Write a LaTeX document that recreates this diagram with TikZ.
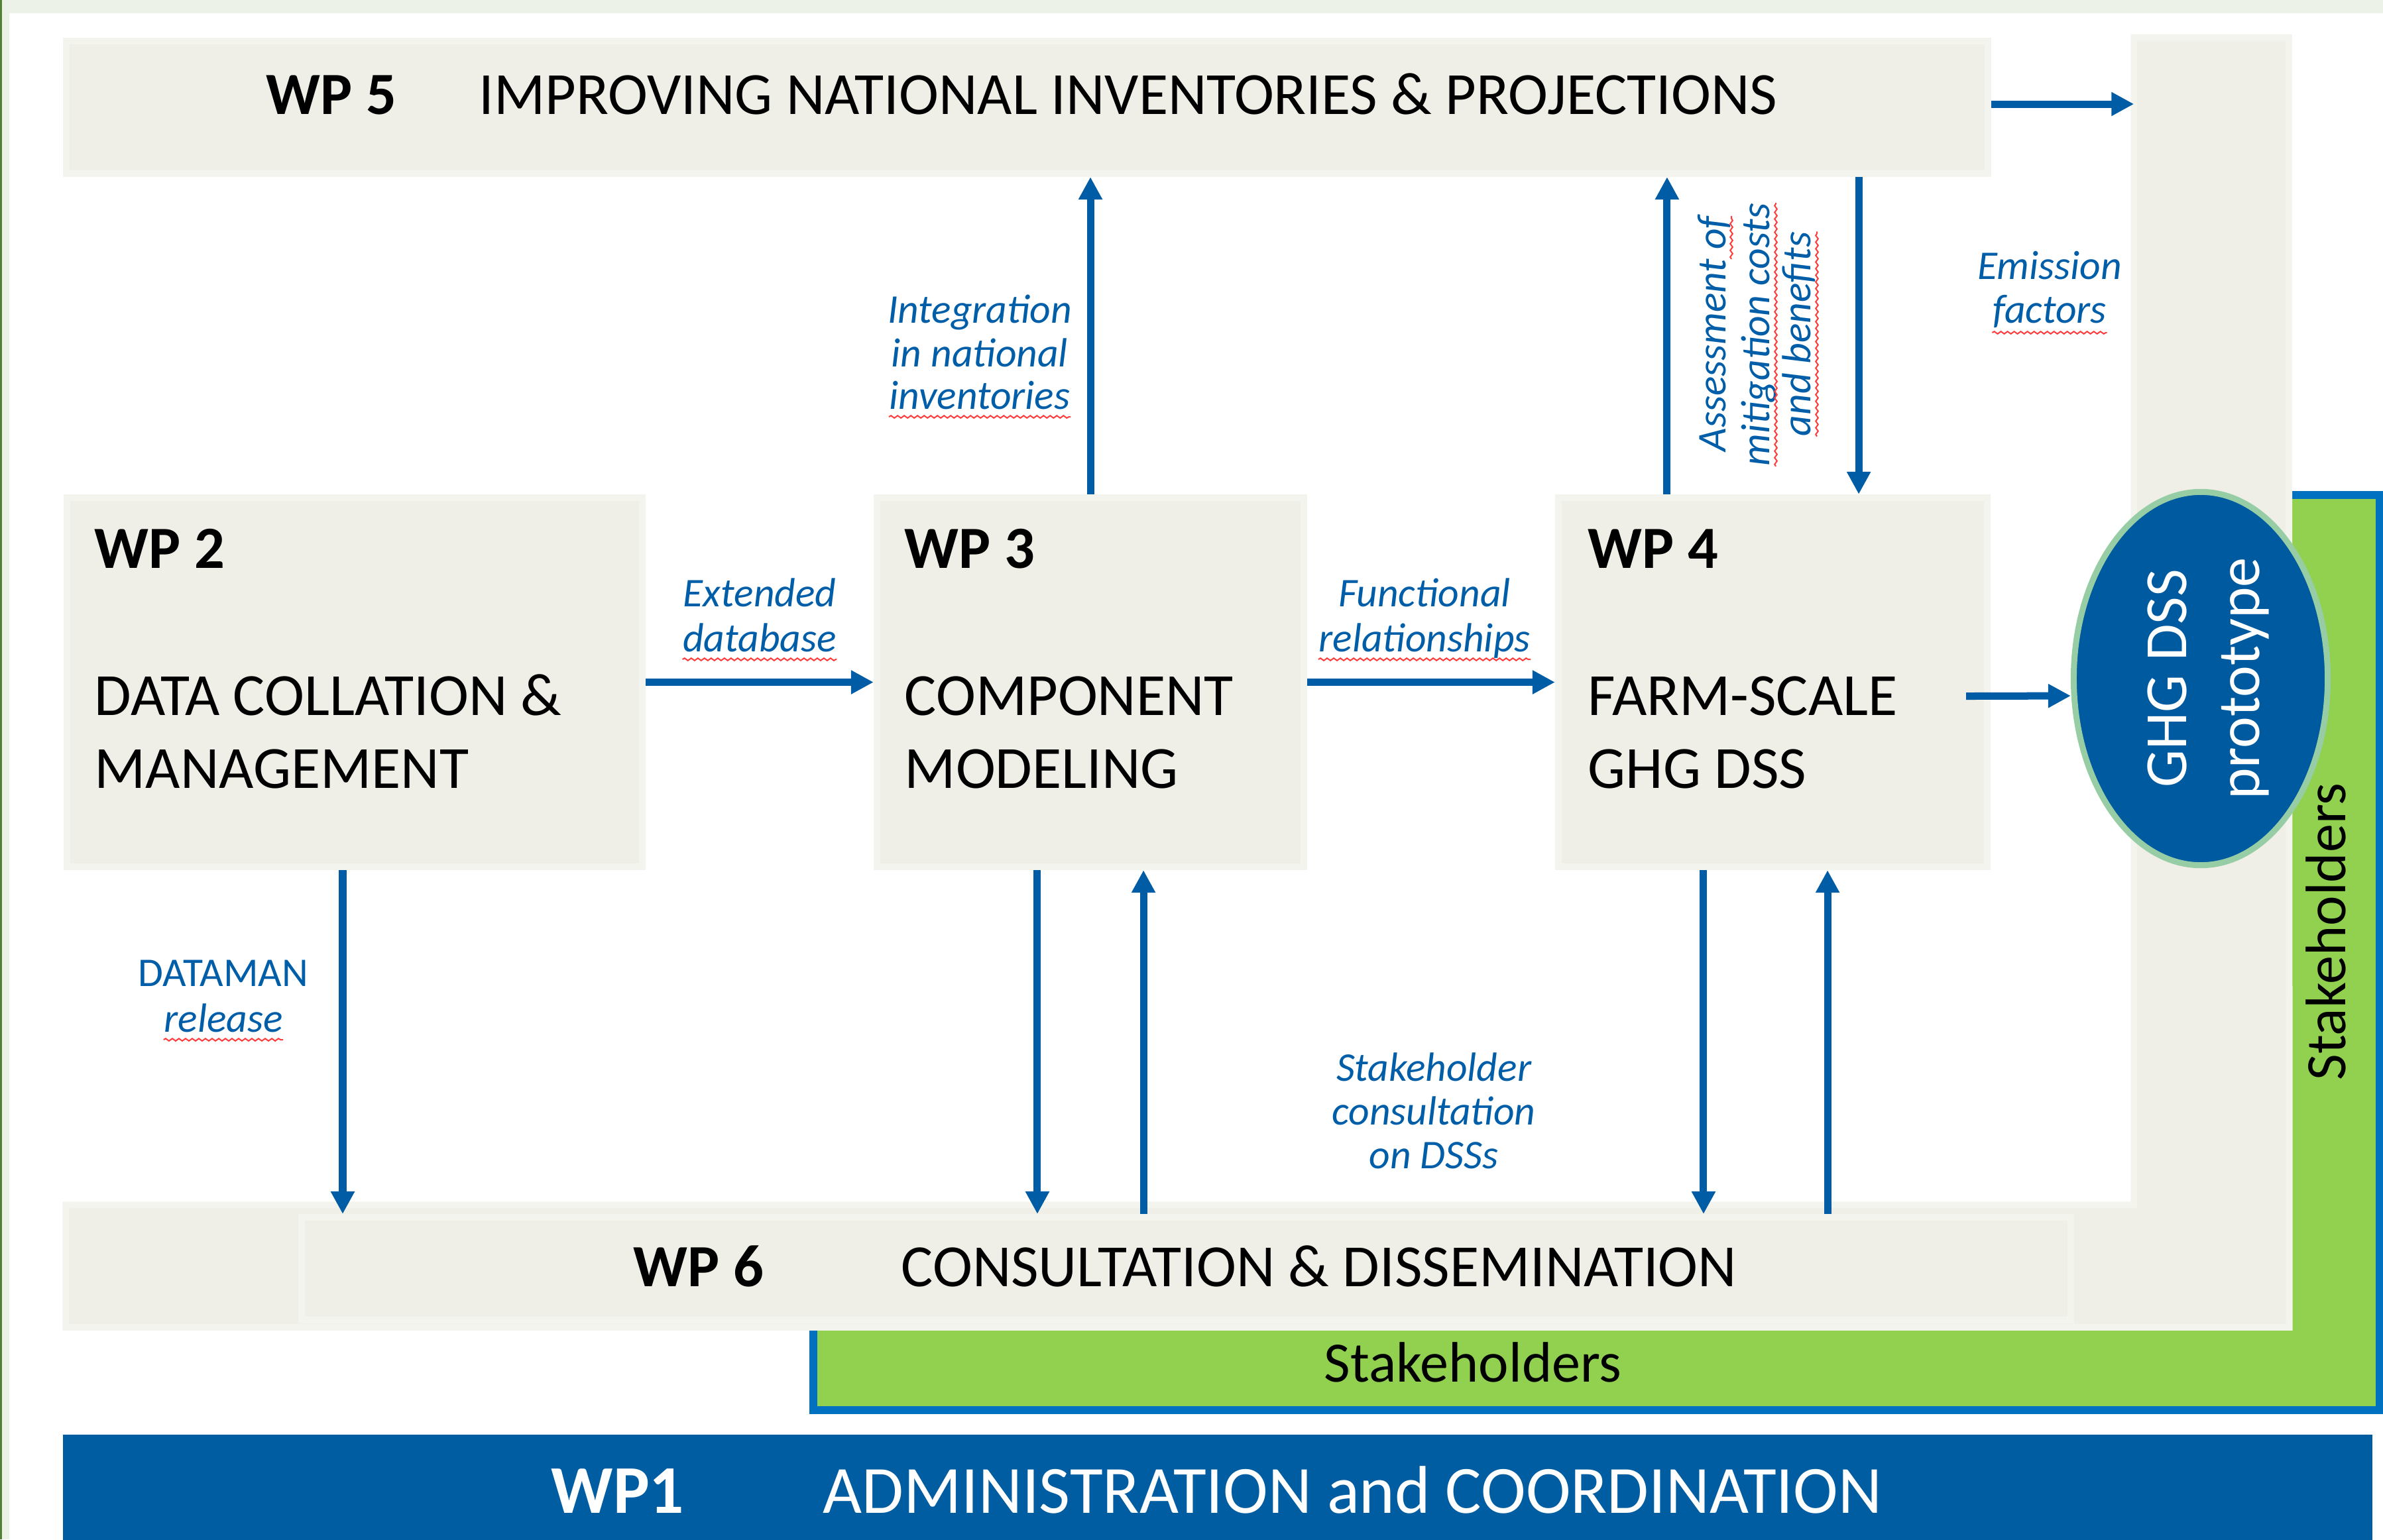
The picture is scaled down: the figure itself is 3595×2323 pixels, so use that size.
\documentclass[tikz,border=0pt]{standalone}
\usepackage{fontspec}
\setmainfont{Carlito}
\usetikzlibrary{arrows.meta,shapes.geometric,decorations.pathmorphing}

\definecolor{wpfill}{RGB}{239,239,231}
\definecolor{wpedge}{RGB}{244,244,238}
\definecolor{flowblue}{RGB}{0,92,164}
\definecolor{lblblue}{RGB}{0,94,168}
\definecolor{adminblue}{RGB}{0,93,162}
\definecolor{dssblue}{RGB}{0,90,160}
\definecolor{dssedge}{RGB}{150,205,165}
\definecolor{stakegreen}{RGB}{146,208,80}
\definecolor{stakeblue}{RGB}{0,112,192}
\definecolor{slidegreen}{RGB}{237,242,233}
\definecolor{slideedge}{RGB}{84,130,53}
\definecolor{spellred}{RGB}{255,60,60}

\begin{document}
\begin{tikzpicture}[x=0.01cm, y=-0.01cm]
		\tikzset{
			wpbox/.style={
				draw=wpedge, fill=wpfill, line width=0.1cm, inner sep=0
			},
			bandbox/.style={
				fill=wpfill, inner sep=0
			},
			wptitle/.style={
				anchor=base west, inner sep=0, font=\fontsize{25.7}{31.3}\selectfont\bfseries
			},
			wptext/.style={
				anchor=base west, inner sep=0, font=\fontsize{25.7}{31.3}\selectfont
			},
			stake/.style={
				anchor=base, inner sep=0, font=\fontsize{24.5}{29}\selectfont
			},
			lbl/.style={
				anchor=base, inner sep=0, text=lblblue, font=\fontsize{17.5}{21}\selectfont\itshape
			},
			flow/.style={
				draw=flowblue, line width=0.11cm, -{Triangle[length=0.34cm, width=0.34cm]}
			},
			squig/.style={
				draw=spellred, line width=0.02cm, decorate,
				decoration={snake, amplitude=0.018cm, segment length=0.1cm}
			},
			dss/.style={
				ellipse, draw=dssedge, fill=dssblue, line width=0.09cm, inner sep=0
			}
		}
		\useasboundingbox (0,0) rectangle (3595,2323);

		% slide frame
		\fill[slidegreen] (0,0) rectangle (3595,20);
		\fill[slidegreen] (0,0) rectangle (14,2323);
		\fill[slideedge] (0,0) rectangle (2.5,2323);

		% stakeholders frame behind the grey L
		\fill[stakegreen] (3457,747) -- (3590,747) -- (3590,2128) -- (1227,2128) -- (1227,2007) -- (3457,2007) -- cycle;
		\draw[stakeblue, line width=0.12cm] (1227,2007) -- (1227,2128) -- (3590,2128) -- (3590,747) -- (3457,747);

		% grey L: side bar and WP6 band
		\node[bandbox, minimum width=2.32cm, minimum height=19.44cm] (sidebar) at (3336,1030) {};
		\node[bandbox, minimum width=33.51cm, minimum height=1.83cm] (band) at (1776.5,1910.5) {};
		\draw[wpedge, line width=0.1cm] (sidebar.north west) -- (sidebar.north east) -- (band.south east)
			-- (band.south west) -- (band.north west) -- (band.north -| sidebar.west) -- cycle;

		% work package boxes
		\node[wpbox, minimum width=28.97cm, minimum height=2.0cm] (wp5) at (1549.5,162) {};
		\node[wpbox, minimum width=26.67cm, minimum height=1.55cm] (wp6) at (1789.5,1914.5) {};
		\node[wpbox, minimum width=8.68cm, minimum height=5.57cm] (wp2) at (535,1029.5) {};
		\node[wpbox, minimum width=6.44cm, minimum height=5.57cm] (wp3) at (1645,1029.5) {};
		\node[wpbox, minimum width=6.47cm, minimum height=5.57cm] (wp4) at (2674.5,1029.5) {};
		\node[fill=adminblue, inner sep=0, minimum width=34.82cm, minimum height=1.7cm] (wp1) at (1837,2250) {};

		\node[wptitle] (wp5t) at (401,172) {WP 5};
		\node[wptext] (wp5n) at (722,172) {IMPROVING NATIONAL INVENTORIES \& PROJECTIONS};
		\node[wptitle] (wp6t) at (955,1941) {WP 6};
		\node[wptext] (wp6n) at (1359,1941) {CONSULTATION \& DISSEMINATION};
		\node[wptitle, text=white, font=\fontsize{29.3}{35}\selectfont\bfseries] (wp1t) at (831,2283) {WP1};
		\node[wptext, text=white, font=\fontsize{29}{35}\selectfont] (wp1n) at (1241,2283) {ADMINISTRATION and COORDINATION};

		\foreach \k/\xl/\la/\lb in {2/142/DATA COLLATION \&/MANAGEMENT, 3/1364/COMPONENT/MODELING, 4/2395/FARM-SCALE/GHG DSS}{
			\node[wptitle] (top\k) at (\xl,857) {WP \k};
			\node[wptext] (mid\k) at (\xl,1079) {\la};
			\node[wptext] (low\k) at (\xl,1189) {\lb};
		}

		\node[stake] (stk1) at (2222,2085) {Stakeholders};
		\node[stake, rotate=90] (stk2) at (3538,1406) {Stakeholders};

		% prototype
		\node[dss, rotate=90, minimum width=5.63cm, minimum height=3.83cm] (dss) at (3320,1024) {};
		\node[rotate=90, inner sep=0, text=white, align=center, font=\fontsize{25.7}{31.3}\selectfont]
			(dsstext) at ([xshift=0.11cm]dss.center) {GHG DSS\\prototype};

		% flows
		\draw[flow] ([yshift=0.05cm]wp5.east) -- ([yshift=0.05cm]wp5.east -| sidebar.west);
		\draw[flow] (wp2) -- (wp3);
		\draw[flow] (wp3) -- (wp4);
		\draw[flow] (wp3.north) -- (wp5.south -| wp3.north);
		\draw[flow] ([xshift=-1.595cm]wp4.north) -- ([xshift=-1.595cm]wp4.north |- wp5.south);
		\draw[flow] ([xshift=1.295cm]wp4.north |- wp5.south) -- ([xshift=1.295cm]wp4.north);
		\draw[flow] ([xshift=-0.18cm]wp2.south) -- ([xshift=-0.18cm]wp2.south |- wp6.north);
		\draw[flow] ([xshift=-0.8cm]wp3.south) -- ([xshift=-0.8cm]wp3.south |- wp6.north);
		\draw[flow] ([xshift=0.8cm]wp3.south |- wp6.north) -- ([xshift=0.8cm]wp3.south);
		\draw[flow] ([xshift=-1.045cm]wp4.south) -- ([xshift=-1.045cm]wp4.south |- wp6.north);
		\draw[flow] ([xshift=0.825cm]wp4.south |- wp6.north) -- ([xshift=0.825cm]wp4.south);
		\draw[flow] ([shift={(-0.37cm,-0.21cm)}]wp4.east) -- ([yshift=-0.26cm]dss.north);

		% flow labels
		\node[lbl] (ext1) at (1146,915) {Extended};
		\node[lbl] (ext2) at (1146,983) {database};
		\node[lbl] (fun1) at (2149,915) {Functional};
		\node[lbl] (fun2) at (2149,983) {relationships};
		\node[lbl] (int1) at (1478,487) {Integration};
		\node[lbl] (int2) at (1478,553) {in national};
		\node[lbl] (int3) at (1478,617) {inventories};
		\node[lbl] (emi1) at (3092,421) {Emission};
		\node[lbl] (emi2) at (3092,487) {factors};
		\node[lbl, rotate=90] (asm1) at (2603,504) {Assessment of};
		\node[lbl, rotate=90] (asm2) at (2669,505) {mitigation costs};
		\node[lbl, rotate=90] (asm3) at (2731,504) {and benefits};
		\node[lbl, font=\fontsize{17.5}{21}\selectfont] (dat1) at (337,1488) {DATAMAN};
		\node[lbl] (dat2) at (337,1557) {release};
		\node[lbl] (sto1) at (2163,1631) {Stakeholder};
		\node[lbl] (sto2) at (2163,1697) {consultation};
		\node[lbl] (sto3) at (2163,1763) {on DSSs};

		% spell-check marks
		\draw[squig] ([yshift=-0.12cm]ext2.base west) -- ([yshift=-0.12cm]ext2.base east);
		\draw[squig] ([yshift=-0.12cm]fun2.base west) -- ([yshift=-0.12cm]fun2.base east);
		\draw[squig] ([yshift=-0.12cm]int3.base west) -- ([yshift=-0.12cm]int3.base east);
		\draw[squig] ([yshift=-0.15cm]emi2.base west) -- ([yshift=-0.15cm]emi2.base east);
		\draw[squig] ([yshift=-0.12cm]dat2.base west) -- ([yshift=-0.12cm]dat2.base east);
		\draw[squig] ([shift={(0.09cm,-0.65cm)}]asm1.base east) -- ([xshift=0.09cm]asm1.base east);
		\draw[squig] ([xshift=0.1cm]asm2.base west) -- ([xshift=0.1cm]asm2.base east);
		\draw[squig] ([xshift=0.1cm]asm3.base west) -- ([xshift=0.1cm]asm3.base east);
\end{tikzpicture}
\end{document}
